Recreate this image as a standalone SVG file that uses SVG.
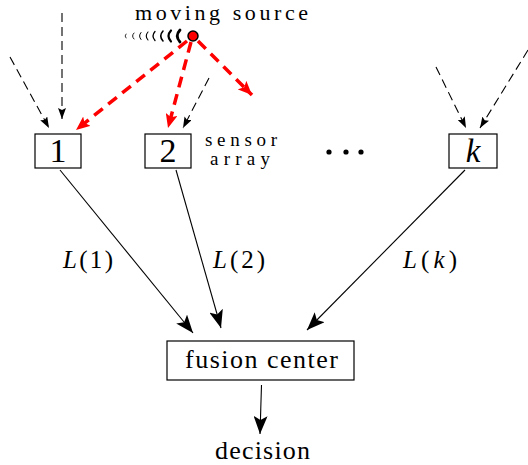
<svg xmlns="http://www.w3.org/2000/svg" width="528" height="465" viewBox="0 0 528 465">
<defs>
<style>
.box{fill:#fff;stroke:#000;stroke-width:1.2}
.solid{stroke:#000;stroke-width:1.1;fill:none}
.bd{stroke:#000;stroke-width:1.1;fill:none;stroke-dasharray:9 5}
.rd{stroke:#f00;stroke-width:3.5;fill:none;stroke-dasharray:11 7}
.wave{stroke:#000;fill:none;stroke-linecap:round}
</style>
<marker id="ab" markerUnits="userSpaceOnUse" markerWidth="20" markerHeight="14" refX="18" refY="7" orient="auto"><path d="M0,0 L18,7 L0,14 L4,7 Z" fill="#000"/></marker>
<marker id="as" markerUnits="userSpaceOnUse" markerWidth="12" markerHeight="8" refX="11" refY="4" orient="auto"><path d="M0,0 L11,4 L0,8 L2,4 Z" fill="#000"/></marker>
<marker id="ar" markerUnits="userSpaceOnUse" markerWidth="15" markerHeight="12" refX="14" refY="6" orient="auto"><path d="M0,0 L14,6 L0,12 L3,6 Z" fill="#f00"/></marker>
</defs>
<g id="connectors">
<line class="bd" x1="62" y1="13" x2="62" y2="119" marker-end="url(#as)"/>
<line class="bd" x1="10" y1="57" x2="49" y2="128" marker-end="url(#as)"/>
<line class="bd" x1="209" y1="78" x2="183" y2="128" marker-end="url(#as)"/>
<line class="bd" x1="436" y1="67" x2="466" y2="128" marker-end="url(#as)"/>
<line class="bd" x1="528" y1="50" x2="480" y2="128" marker-end="url(#as)"/>
<line class="rd" x1="187" y1="41" x2="76" y2="130" marker-end="url(#ar)"/>
<line class="rd" x1="191" y1="42" x2="168" y2="128" marker-end="url(#ar)"/>
<line class="rd" x1="198" y1="41" x2="252" y2="95" marker-end="url(#ar)"/>
<line class="solid" x1="60" y1="170" x2="193" y2="333" marker-end="url(#ab)"/>
<line class="solid" x1="176" y1="170" x2="221" y2="328" marker-end="url(#ab)"/>
<line class="solid" x1="465" y1="170" x2="307" y2="330" marker-end="url(#ab)"/>
<line class="solid" x1="261.5" y1="385" x2="260" y2="434" marker-end="url(#ab)"/>
</g>
<g font-family="Liberation Serif, Times New Roman, DejaVu Serif, serif" fill="#000">
<g id="source">
<path class="wave" stroke-width="0.8" d="M126,34 Q124,36 126,38"/>
<path class="wave" stroke-width="0.9" d="M134,33 Q131,36 134,39"/>
<path class="wave" stroke-width="1" d="M141,32.5 Q138,36 141,39.5"/>
<path class="wave" stroke-width="1.1" d="M148,32 Q144.5,36 148,40"/>
<path class="wave" stroke-width="1.3" d="M155,31.5 Q151,36 155,40.5"/>
<path class="wave" stroke-width="1.6" d="M163,31 Q158.5,36 163,41"/>
<path class="wave" stroke-width="2.2" d="M171,30.5 Q166,36 171,41.5"/>
<path class="wave" stroke-width="2.8" d="M180,30 Q174.5,36 180,42"/>
<circle cx="193" cy="36" r="5" fill="#f00" stroke="#000" stroke-width="1.5"/>
<text x="135" y="20" font-size="22" textLength="173">moving source</text>
</g>
<g id="sensor1">
<rect class="box" x="35" y="134" width="46" height="34"/>
<text x="58" y="162" font-size="34" text-anchor="middle">1</text>
</g>
<g id="sensor2">
<rect class="box" x="145" y="134" width="46" height="34"/>
<text x="168" y="162" font-size="34" text-anchor="middle">2</text>
</g>
<g id="sensor-label">
<text x="205" y="146" font-size="19" textLength="72">sensor</text>
<text x="210" y="165" font-size="19" textLength="60">array</text>
</g>
<g id="dots">
<circle cx="329" cy="152" r="2.6"/>
<circle cx="346" cy="152" r="2.6"/>
<circle cx="361" cy="152" r="2.6"/>
</g>
<g id="sensork">
<rect class="box" x="449" y="134" width="48" height="34"/>
<text x="473" y="162" font-size="33" font-style="italic" text-anchor="middle">k</text>
</g>
<g id="labels">
<text x="63" y="268" font-size="25" textLength="50"><tspan font-style="italic">L</tspan>(1)</text>
<text x="213" y="268" font-size="25" textLength="52"><tspan font-style="italic">L</tspan>(2)</text>
<text x="403" y="268" font-size="25" textLength="54"><tspan font-style="italic">L</tspan>(<tspan font-style="italic">k</tspan>)</text>
</g>
<g id="fusion">
<rect class="box" x="167" y="341" width="187" height="39"/>
<text x="185" y="368" font-size="26" textLength="153">fusion center</text>
</g>
<g id="decision">
<text x="215" y="459" font-size="26" textLength="95">decision</text>
</g>
</g>
</svg>
